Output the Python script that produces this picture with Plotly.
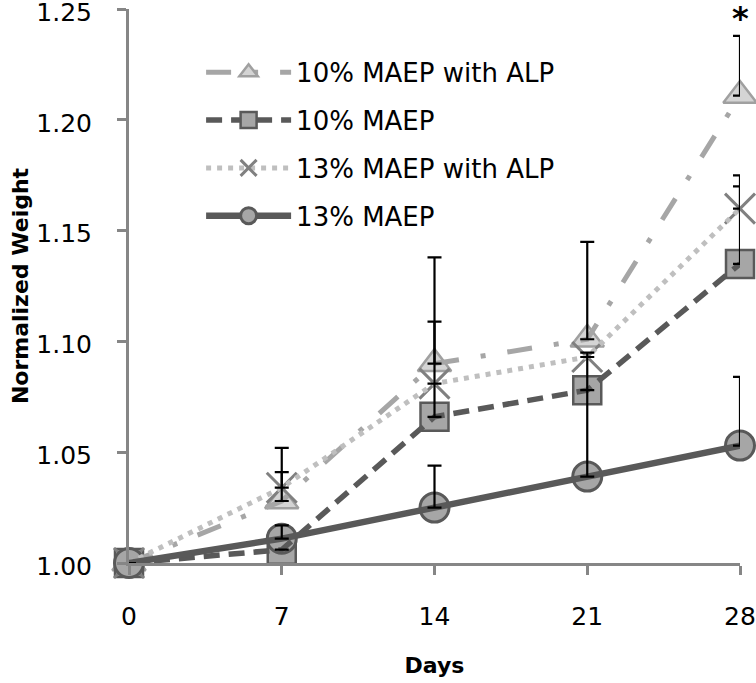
import plotly.graph_objects as go

nan = float("nan")

days = [0, 7, 14, 21, 28]
tick_days = [0, 7, 14, 21, 28]
y_ticks = [1.00, 1.05, 1.10, 1.15, 1.20, 1.25]

names = ["10% MAEP with ALP", "10% MAEP", "13% MAEP with ALP", "13% MAEP"]
w10_alp = [1.000, 1.028, 1.090, 1.101, 1.211]
w10 = [1.000, 1.006, 1.066, 1.078, 1.135]
w13_alp = [1.000, 1.034, 1.081, 1.093, 1.160]
w13 = [1.000, 1.011, 1.025, 1.039, 1.053]

# upper error (SD); nan = no visible bar
err10_alp = [nan, 0.024, 0.048, 0.044, 0.027]
err10 = [nan, nan, 0.043, nan, 0.035]
err13_alp = [nan, 0.007, nan, nan, 0.015]
err13 = [nan, 0.006, 0.019, 0.056, 0.031]

star_day = 28
star_y = 1.246

values = [w10_alp, w10, w13_alp, w13]
errors = [err10_alp, err10, err13_alp, err13]

styles = [
    dict(line=dict(color="#a6a6a6", width=5, dash="25px,22px,5px,22px"),
         marker=dict(symbol="triangle-up", size=29, color="#d4d4d4",
                     line=dict(color="#a0a0a0", width=2.5))),
    dict(line=dict(color="#595959", width=5.5, dash="16px,9px"),
         marker=dict(symbol="square", size=28, color="#a6a6a6",
                     line=dict(color="#595959", width=2.5))),
    dict(line=dict(color="#bfbfbf", width=5, dash="5px,6px"),
         marker=dict(symbol="x-thin", size=30, color="#808080",
                     line=dict(color="#808080", width=3))),
    dict(line=dict(color="#595959", width=6.5, dash="solid"),
         marker=dict(symbol="circle", size=29, color="#a6a6a6",
                     line=dict(color="#595959", width=3))),
]

fig = go.Figure()

# markers (drawn first)
for name, vals, st in zip(names, values, styles):
    fig.add_trace(go.Scatter(x=days, y=vals, mode="markers", marker=st["marker"],
                             showlegend=False, cliponaxis=False, hoverinfo="skip"))
# lines on top of markers
for name, vals, st in zip(names, values, styles):
    fig.add_trace(go.Scatter(x=days, y=vals, mode="lines", line=st["line"],
                             showlegend=False, cliponaxis=False, name=name))
# upper error bars
for name, vals, err in zip(names, values, errors):
    fig.add_trace(go.Scatter(x=days, y=vals, mode="markers",
                             marker=dict(size=1, color="rgba(0,0,0,0)"),
                             error_y=dict(type="data", array=err, symmetric=False,
                                          arrayminus=[0] * len(err), color="black",
                                          thickness=2.2, width=7),
                             showlegend=False, cliponaxis=False, hoverinfo="skip"))
# legend entries
for i, (name, st) in enumerate(zip(names, styles)):
    fig.add_trace(go.Scatter(x=[None], y=[None], mode="lines+markers", name=name,
                             line=st["line"], marker=st["marker"],
                             legendgroup=f"g{i}", showlegend=True))

fig.add_annotation(x=star_day, y=star_y, xref="x", yref="y", text="<b>*</b>",
                   showarrow=False, font=dict(size=32, color="black",
                                              family="DejaVu Sans"),
                   xanchor="center", yanchor="middle", borderpad=0)

axis_font = dict(family="DejaVu Sans", size=25, color="black")
fig.update_layout(
    width=756, height=683,
    margin=dict(l=129, r=16, t=9, b=120, autoexpand=False),
    paper_bgcolor="white", plot_bgcolor="white",
    font=dict(family="DejaVu Sans", size=25, color="black"),
    showlegend=True,
    legend=dict(x=0.118, y=0.928, xanchor="left", yanchor="top",
                bgcolor="rgba(0,0,0,0)", font=dict(family="DejaVu Sans", size=26, color="black"),
                itemwidth=85, tracegroupgap=11, traceorder="grouped"),
    xaxis=dict(range=[0, 28], tickvals=tick_days, ticktext=[str(d) for d in tick_days],
               showgrid=False, zeroline=False, showline=True, linecolor="#868686",
               linewidth=3, ticks="outside", ticklen=9, tickwidth=3, tickcolor="#868686",
               tickfont=axis_font, ticklabelstandoff=20, automargin=False,
               ticklabeloverflow="allow",
               title=dict(text="<b>Days</b>", font=dict(family="DejaVu Sans", size=22, color="black"),
                          standoff=28)),
    yaxis=dict(range=[1.0, 1.2501], tickvals=y_ticks, ticktext=[f"{v:.2f}" for v in y_ticks],
               showgrid=False, zeroline=False, showline=True, linecolor="#868686",
               linewidth=3, ticks="outside", ticklen=9, tickwidth=3, tickcolor="#868686",
               tickfont=axis_font, ticklabelstandoff=20, ticklabelshift=3, automargin=False,
               ticklabeloverflow="allow",
               title=dict(text="<b>Normalized Weight</b>",
                          font=dict(family="DejaVu Sans", size=22, color="black"),
                          standoff=2)),
)

fig.write_html("out.html", config={"displayModeBar": False},
               post_script="document.body.style.margin='0';")
